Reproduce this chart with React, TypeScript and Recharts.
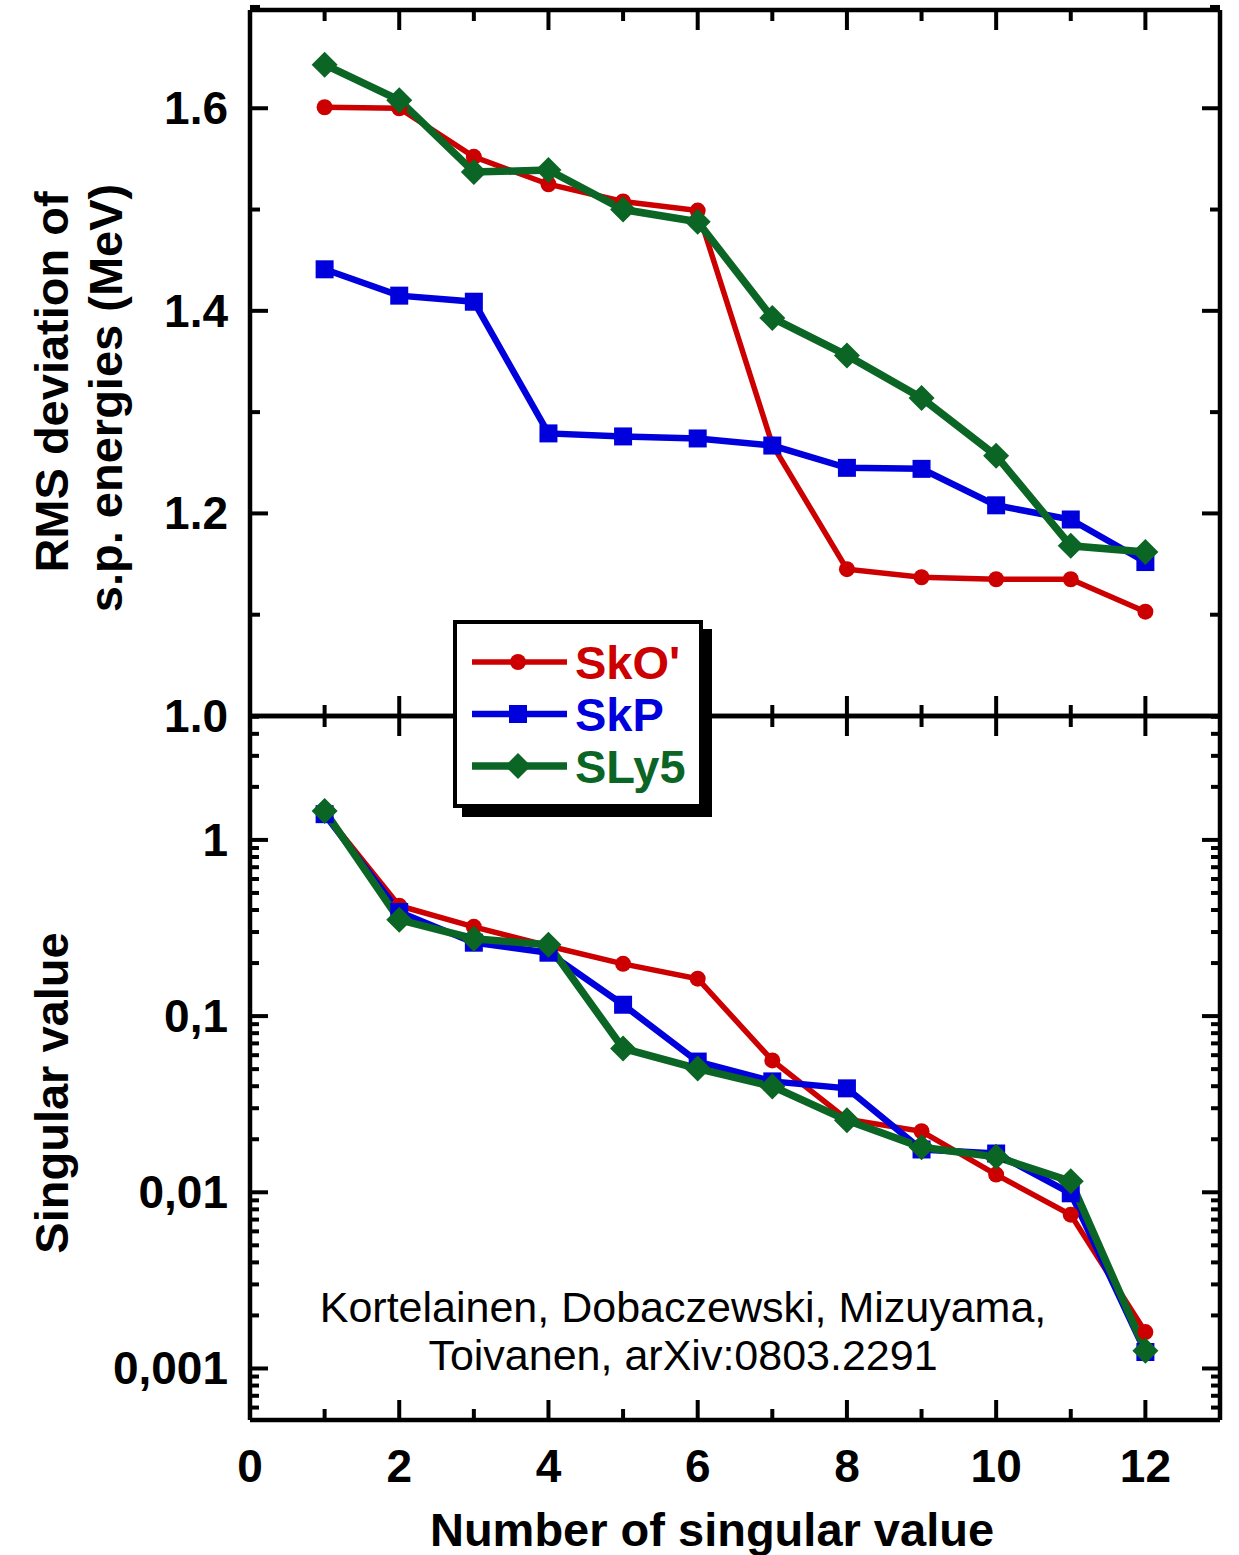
import React from "react"
import { LineChart, Line, XAxis, YAxis } from "recharts"

// number of the singular value (x)
const singularIndex = [1, 2, 3, 4, 5, 6, 7, 8, 9, 10, 11, 12]

// top panel: RMS deviation of s.p. energies (MeV)
const rmsSkO = [1.601, 1.6, 1.552, 1.525, 1.508, 1.499, 1.268, 1.145, 1.137, 1.135, 1.135, 1.103]
const rmsSkP = [1.441, 1.415, 1.409, 1.279, 1.276, 1.274, 1.267, 1.245, 1.244, 1.208, 1.194, 1.152]
const rmsSLy5 = [1.643, 1.608, 1.537, 1.539, 1.5, 1.488, 1.393, 1.356, 1.314, 1.257, 1.168, 1.162]

// bottom panel: singular values
const svSkO = [1.42, 0.423, 0.321, 0.25, 0.198, 0.163, 0.056, 0.026, 0.0222, 0.0126, 0.00746, 0.00161]
const svSkP = [1.4, 0.39, 0.261, 0.229, 0.116, 0.0552, 0.0426, 0.0389, 0.0175, 0.0166, 0.00987, 0.00124]
const svSLy5 = [1.46, 0.352, 0.275, 0.254, 0.0655, 0.0504, 0.0399, 0.0256, 0.018, 0.0159, 0.01154, 0.00126]

// ticks
const xTickValues = [0, 1, 2, 3, 4, 5, 6, 7, 8, 9, 10, 11, 12, 13]
const rmsTickValues = [1.0, 1.1, 1.2, 1.3, 1.4, 1.5, 1.6, 1.7]
const rmsTickLabels = ["1.0", "", "1.2", "", "1.4", "", "1.6", ""]
const logMajorTicks = [0.0001, 0.001, 0.01, 0.1, 1]
const logMajorLabels = ["", "0,001", "0,01", "0,1", "1"]
const logMultipliers = [1, 2, 3, 4, 5, 6, 7, 8, 9]

const rmsDomain: [number, number] = [1.0, 1.697]
const svDomain: [number, number] = [0.00051, 5.05]

const logTickValues = logMajorTicks
  .flatMap((d) => logMultipliers.map((m) => +(m * d).toPrecision(3)))
  .filter((v) => v >= svDomain[0] && v <= svDomain[1])

const FONT = '"Liberation Sans", Arial, Helvetica, sans-serif'
const RED = "#cc0000"
const BLUE = "#0000dc"
const GREEN = "#0b6524"

const series = [
  { key: "SkO", name: "SkO'", color: RED, width: 5.5, shape: "circle", rms: rmsSkO, sv: svSkO },
  { key: "SkP", name: "SkP", color: BLUE, width: 6.5, shape: "square", rms: rmsSkP, sv: svSkP },
  { key: "SLy5", name: "SLy5", color: GREEN, width: 7.5, shape: "diamond", rms: rmsSLy5, sv: svSLy5 },
]

const rmsRows = singularIndex.map((n, i) => {
  const row: any = { n }
  series.forEach((s) => (row[s.key] = s.rms[i]))
  return row
})
const svRows = singularIndex.map((n, i) => {
  const row: any = { n }
  series.forEach((s) => (row[s.key] = s.sv[i]))
  return row
})

function marker(shape: string, color: string, cx: number, cy: number, key?: any) {
  if (shape === "circle") return <circle key={key} cx={cx} cy={cy} r={8} fill={color} />
  if (shape === "square") return <rect key={key} x={cx - 9} y={cy - 9} width={18} height={18} fill={color} />
  const h = 13
  return (
    <polygon key={key} points={`${cx},${cy - h} ${cx + h},${cy} ${cx},${cy + h} ${cx - h},${cy}`} fill={color} />
  )
}

const dotFor = (shape: string, color: string) => (p: any) => {
  if (p.cx == null || p.cy == null) return <g key={p.index} />
  return marker(shape, color, p.cx, p.cy, p.index)
}

const labelStyle = { fontFamily: FONT, fontWeight: 700, fontSize: 46, fill: "#000" }

// x ticks, dir = +1 draws downward, -1 upward
const xTick = (dir: number, labels: boolean) => (props: any) => {
  const { x, y, payload } = props
  const v = payload.value
  const major = v % 2 === 0
  const len = major ? 20 : 11
  return (
    <g>
      {v > 0 && v < 13 && <line x1={x} x2={x} y1={y} y2={y + dir * len} stroke="#000" strokeWidth={4} />}
      {labels && major && v <= 12 && (
        <text x={x} y={y + 62} textAnchor="middle" style={labelStyle}>
          {v}
        </text>
      )}
    </g>
  )
}

const rmsTick = (dir: number, labels: boolean) => (props: any) => {
  const { x, y, payload } = props
  const i = rmsTickValues.findIndex((t) => Math.abs(t - payload.value) < 1e-6)
  const label = i >= 0 ? rmsTickLabels[i] : ""
  const len = label ? 18 : 10
  return (
    <g>
      <line x1={x} x2={x + dir * len} y1={y} y2={y} stroke="#000" strokeWidth={4} />
      {labels && label && (
        <text x={x - 22} y={y + 16} textAnchor="end" style={labelStyle}>
          {label}
        </text>
      )}
    </g>
  )
}

const logTick = (dir: number, labels: boolean) => (props: any) => {
  const { x, y, payload } = props
  const i = logMajorTicks.findIndex((t) => Math.abs(t - payload.value) / t < 1e-6)
  const major = i >= 0
  const len = major ? 18 : 9
  return (
    <g>
      <line x1={x} x2={x + dir * len} y1={y} y2={y} stroke="#000" strokeWidth={4} />
      {labels && major && logMajorLabels[i] && (
        <text x={x - 22} y={y + 16} textAnchor="end" style={labelStyle}>
          {logMajorLabels[i]}
        </text>
      )}
    </g>
  )
}

const axisLine = { stroke: "#000", strokeWidth: 4.5 }
const W = 1239
const H = 1555

// plot box: x 250..1220, top panel 10..716, bottom panel 716..1420 (axes take 1px each)
export default function App() {
  return (
    <div style={{ position: "absolute", left: 0, top: 0, width: W, height: H, background: "#fff", overflow: "hidden" }}>
      <div style={{ position: "absolute", left: 0, top: 0 }}>
        <LineChart width={W} height={H} data={rmsRows} margin={{ top: 9, right: 18, bottom: 838, left: 249 }}>
          <XAxis xAxisId="b" dataKey="n" type="number" domain={[0, 13]} ticks={xTickValues} interval={0}
            height={1} tickSize={0} tickMargin={0} tickLine={false} axisLine={axisLine} tick={xTick(-1, false)} />
          <XAxis xAxisId="t" orientation="top" dataKey="n" type="number" domain={[0, 13]} ticks={xTickValues} interval={0}
            height={1} tickSize={0} tickMargin={0} tickLine={false} axisLine={axisLine} tick={xTick(1, false)} />
          <YAxis yAxisId="l" type="number" domain={rmsDomain} allowDataOverflow ticks={rmsTickValues} interval={0}
            width={1} tickSize={0} tickMargin={0} tickLine={false} axisLine={axisLine} tick={rmsTick(1, true)} />
          <YAxis yAxisId="r" orientation="right" type="number" domain={rmsDomain} allowDataOverflow ticks={rmsTickValues} interval={0}
            width={1} tickSize={0} tickMargin={0} tickLine={false} axisLine={axisLine} tick={rmsTick(-1, false)} />
          {series.map((s) => (
            <Line key={s.key} xAxisId="b" yAxisId="l" type="linear" dataKey={s.key} stroke={s.color}
              strokeWidth={s.width} dot={dotFor(s.shape, s.color)} activeDot={false} isAnimationActive={false} />
          ))}
        </LineChart>
      </div>
      <div style={{ position: "absolute", left: 0, top: 0 }}>
        <LineChart width={W} height={H} data={svRows} margin={{ top: 715, right: 18, bottom: 134, left: 249 }}>
          <XAxis xAxisId="b" dataKey="n" type="number" domain={[0, 13]} ticks={xTickValues} interval={0}
            height={1} tickSize={0} tickMargin={0} tickLine={false} axisLine={axisLine} tick={xTick(-1, true)} />
          <XAxis xAxisId="t" orientation="top" dataKey="n" type="number" domain={[0, 13]} ticks={xTickValues} interval={0}
            height={1} tickSize={0} tickMargin={0} tickLine={false} axisLine={axisLine} tick={xTick(1, false)} />
          <YAxis yAxisId="l" type="number" scale="log" domain={svDomain} allowDataOverflow ticks={logTickValues} interval={0}
            width={1} tickSize={0} tickMargin={0} tickLine={false} axisLine={axisLine} tick={logTick(1, true)} />
          <YAxis yAxisId="r" orientation="right" type="number" scale="log" domain={svDomain} allowDataOverflow ticks={logTickValues} interval={0}
            width={1} tickSize={0} tickMargin={0} tickLine={false} axisLine={axisLine} tick={logTick(-1, false)} />
          {series.map((s) => (
            <Line key={s.key} xAxisId="b" yAxisId="l" type="linear" dataKey={s.key} stroke={s.color}
              strokeWidth={s.width} dot={dotFor(s.shape, s.color)} activeDot={false} isAnimationActive={false} />
          ))}
        </LineChart>
      </div>

      <svg width={W} height={H} style={{ position: "absolute", left: 0, top: 0, pointerEvents: "none" }}>
        <g style={{ fontFamily: FONT, fontWeight: 700, fontSize: 47, fill: "#000" }}>
          <text transform="translate(68,382) rotate(-90)" textAnchor="middle">RMS deviation of</text>
          <text transform="translate(122,398) rotate(-90)" textAnchor="middle">s.p. energies (MeV)</text>
          <text transform="translate(68,1093) rotate(-90)" textAnchor="middle">Singular value</text>
          <text x={712} y={1546} textAnchor="middle">Number of singular value</text>
        </g>
        <g style={{ fontFamily: FONT, fontWeight: 400, fontSize: 43, fill: "#000" }}>
          <text x={683} y={1322} textAnchor="middle">Kortelainen, Dobaczewski, Mizuyama,</text>
          <text x={683} y={1370} textAnchor="middle">Toivanen, arXiv:0803.2291</text>
        </g>
      </svg>

      <div style={{ position: "absolute", left: 453, top: 620, width: 242, height: 180, border: "4px solid #000",
        background: "#fff", boxShadow: "9px 9px 0 #000" }}>
        <svg width={242} height={180}>
          {series.map((s, i) => {
            const cy = 38 + i * 52
            return (
              <g key={s.key}>
                <line x1={15} x2={110} y1={cy} y2={cy} stroke={s.color} strokeWidth={s.width} />
                {marker(s.shape, s.color, 61, cy)}
                <text x={118} y={cy + 17} style={{ fontFamily: FONT, fontWeight: 700, fontSize: 47, fill: s.color }}>
                  {s.name}
                </text>
              </g>
            )
          })}
        </svg>
      </div>
    </div>
  )
}
